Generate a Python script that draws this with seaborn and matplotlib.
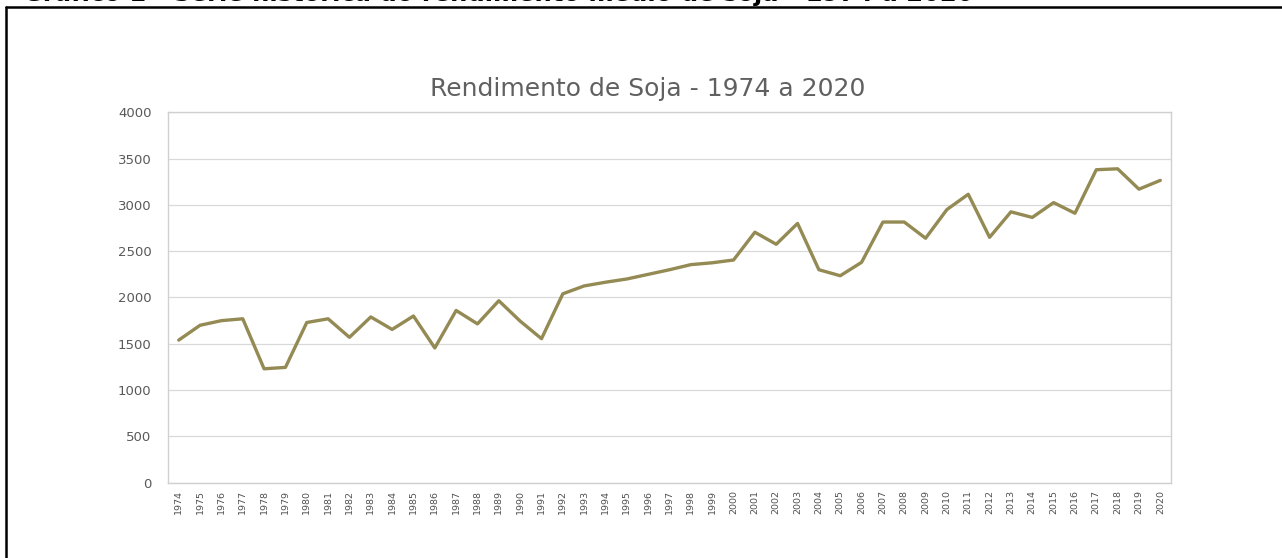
import numpy as np
import pandas as pd
import matplotlib
matplotlib.use("Agg")
import matplotlib.pyplot as plt
import seaborn as sns

# soybean yield (kg/ha)
years = list(range(1974, 2021))
yield_kg = [1540, 1700, 1750, 1770, 1230, 1245, 1730, 1770, 1570, 1790,
            1655, 1800, 1455, 1860, 1715, 1965, 1745, 1555, 2040, 2125,
            2165, 2200, 2250, 2300, 2355, 2375, 2405, 2705, 2575, 2800,
            2300, 2235, 2380, 2815, 2815, 2640, 2950, 3115, 2650, 2925,
            2865, 3025, 2910, 3380, 3390, 3170, 3265]
y_ticks = [0, 500, 1000, 1500, 2000, 2500, 3000, 3500, 4000]

chart_title = "Rendimento de Soja - 1974 a 2020"
doc_caption = "Gráfico 1 - Série histórica do rendimento médio de soja - 1974 a 2020"

df = pd.DataFrame({"ano": years, "rendimento": yield_kg})

sns.set_style("white")
plt.rcParams["font.family"] = ["DejaVu Sans"]

line_color = "#948A54"
text_gray = "#595959"
grid_gray = "#D9D9D9"

fig = plt.figure(figsize=(12.82, 5.58), dpi=100)
ax = fig.add_axes([0.1311, 0.135, 0.7823, 0.6637])

sns.lineplot(data=df, x="ano", y="rendimento", color=line_color,
             linewidth=2.4, ax=ax)

ax.set_xlim(years[0] - 0.5, years[-1] + 0.5)
ax.set_ylim(0, 4000)
ax.set_yticks(y_ticks)
ax.set_yticklabels([str(v) for v in y_ticks], fontsize=9.5, color=text_gray)
ax.set_xticks(years)
ax.set_xticklabels([str(y) for y in years], rotation=90, fontsize=6.8,
                   color="#505050")
ax.tick_params(axis="y", length=0, pad=12)
ax.tick_params(axis="x", length=0, pad=5)
ax.set_xlabel("")
ax.set_ylabel("")

ax.yaxis.grid(True, color=grid_gray, linewidth=0.9)
ax.xaxis.grid(False)
ax.set_axisbelow(True)
for side in ["left", "right", "top", "bottom"]:
    ax.spines[side].set_visible(True)
    ax.spines[side].set_color("#D0D0D0")
    ax.spines[side].set_linewidth(1.0)

fig.text(0.5055, 0.84, chart_title, ha="center", va="center",
         fontsize=18, color="#606060")

# caption of the surrounding document, cut off at the top edge
fig.text(0.018, 0.9978, doc_caption, ha="left", va="baseline",
         fontsize=17.5, fontweight="bold", color="black")

# frame of the document box
fig.add_artist(plt.Line2D([0.0045, 0.0045], [0.0, 0.9875], color="black",
                          linewidth=1.8, transform=fig.transFigure))
fig.add_artist(plt.Line2D([0.0045, 1.0], [0.9875, 0.9875], color="black",
                          linewidth=1.8, transform=fig.transFigure))

fig.savefig("out.png", dpi=100)
